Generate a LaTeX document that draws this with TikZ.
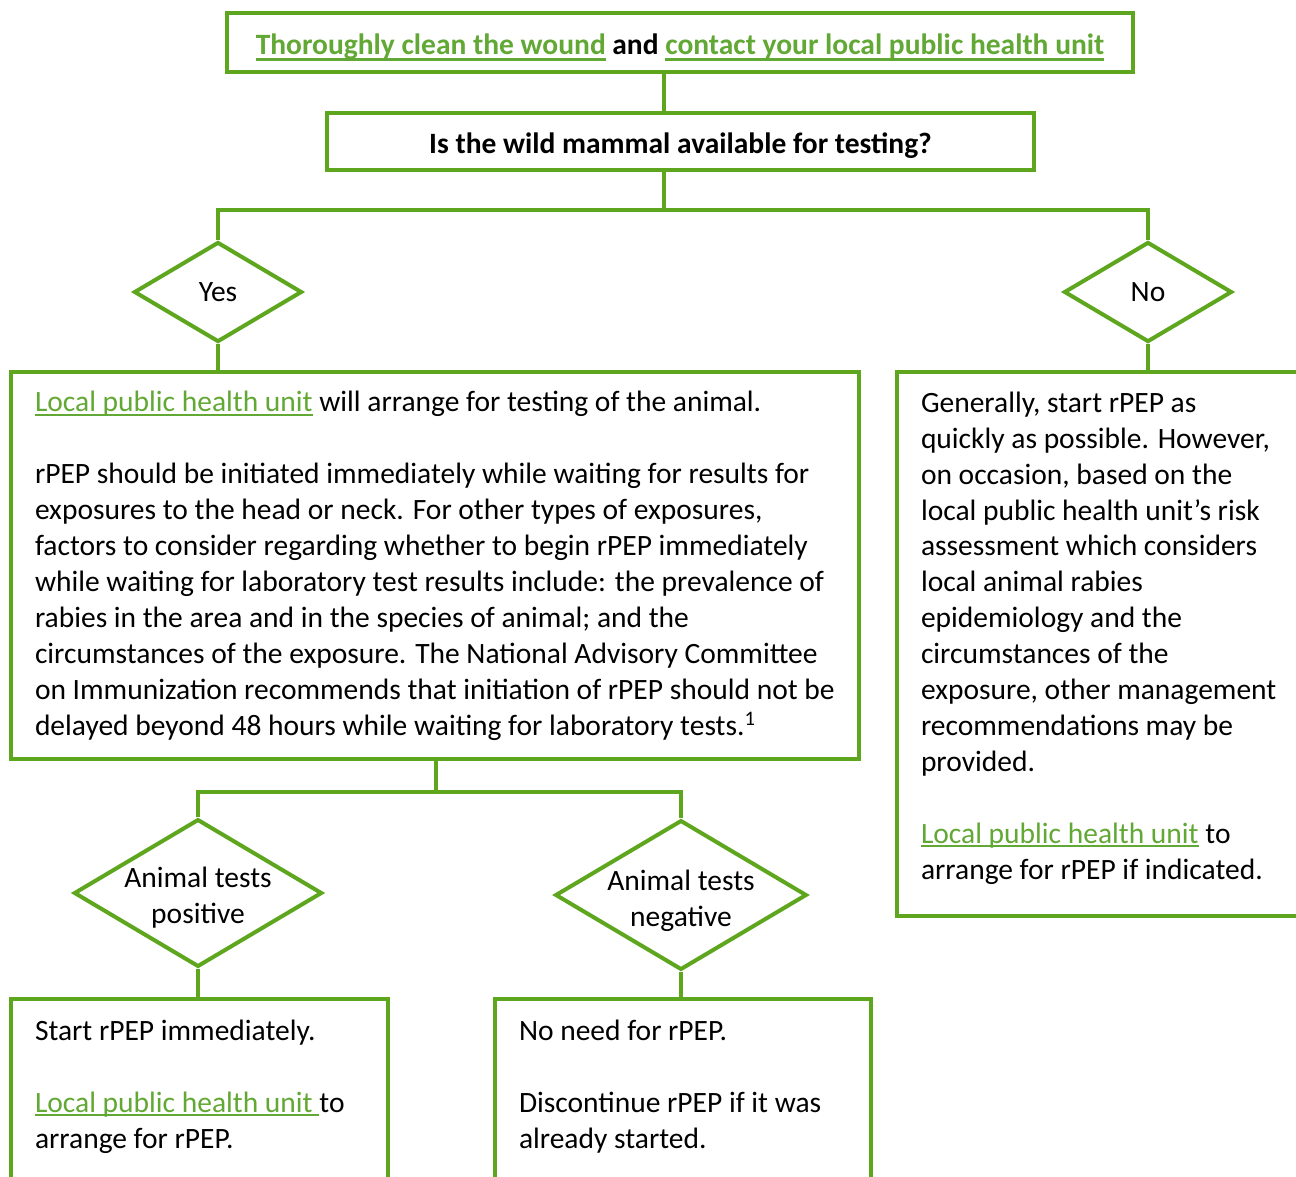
\documentclass[tikz,border=0pt]{standalone}
\usepackage{fontspec}
\setmainfont{Carlito}
\usetikzlibrary{shapes.geometric}
\definecolor{boxgreen}{RGB}{94,166,30}
\definecolor{linkgreen}{RGB}{98,168,52}
\newlength{\lnkwd}
\newcommand{\lnkline}[3]{\settowidth{\lnkwd}{#3}\textcolor{linkgreen}{\rlap{\rule[#1]{\lnkwd}{#2}}#3}}
\newcommand{\lnk}[1]{\lnkline{-4pt}{2pt}{#1}}
\newcommand{\lnkbold}[1]{\lnkline{-6pt}{3pt}{#1}}
\newcommand{\bodyfont}{\fontsize{29.5}{35.9}\selectfont}

\begin{document}
\begin{tikzpicture}
  [x=1pt,y=-1pt,line width=4pt,
   box/.style={rectangle,draw=boxgreen,fill=white,inner sep=0pt},
   headbox/.style={box,font=\bodyfont\bfseries,text height=24pt,text depth=0pt},
   choice/.style={diamond,draw=boxgreen,fill=white,inner sep=0pt,align=center,font=\bodyfont,text depth=0pt},
   body/.style={inner sep=0pt,align=left,anchor=base west,font=\bodyfont}]
  \useasboundingbox (0,0) rectangle (1296,1176);
  \clip (0,0) rectangle (1296,1176);

  \node[headbox,minimum width=906,minimum height=59] (wound) at (680,42.5)
    {\lnkbold{Thoroughly clean the wound} and \lnkbold{contact your local public health unit}};
  \node[headbox,minimum width=707,minimum height=57] (question) at (680.5,141.5)
    {Is the wild mammal available for testing?};
  \coordinate (split1) at (664,210);

  \node[choice,aspect=1.68,text height=18pt,minimum width=168,minimum height=100] (yes) at (218,292) {Yes};
  \node[choice,aspect=1.68,text height=18pt,minimum width=168,minimum height=100] (no) at (1148,292) {No};

  \node[box,minimum width=848,minimum height=387] (testing) at (435,565.5) {};
  \node[box,minimum width=403,minimum height=544] (general) at (1098.5,644) {};
  \coordinate (split2) at (436,792);

  \node[choice,aspect=1.68,text height=60pt,minimum width=248,minimum height=146] (pos) at (198,893) {Animal tests\\positive};
  \node[choice,aspect=1.68,text height=62pt,minimum width=248,minimum height=146] (neg) at (681,895) {Animal tests\\negative};

  \node[box,minimum width=377,minimum height=201] (posbox) at (199.5,1099.5) {};
  \node[box,minimum width=376,minimum height=201] (negbox) at (683,1099.5) {};

  % texts, placed at the baseline of their last line
  \node[body] (testingtxt) at (33,735) {\lnk{Local public health unit} will arrange for testing of the animal.\\[35.9pt]
    rPEP should be initiated immediately while waiting for results for\\
    exposures to the head or neck. For other types of exposures,\\
    factors to consider regarding whether to begin rPEP immediately\\
    while waiting for laboratory test results include: the prevalence of\\
    rabies in the area and in the species of animal; and the\\
    circumstances of the exposure. The National Advisory Committee\\
    on Immunization recommends that initiation of rPEP should not be\\
    delayed beyond 48 hours while waiting for laboratory tests.\textsuperscript{1}};
  \node[body] (generaltxt) at (919,879) {Generally, start rPEP as\\
    quickly as possible. However,\\
    on occasion, based on the\\
    local public health unit’s risk\\
    assessment which considers\\
    local animal rabies\\
    epidemiology and the\\
    circumstances of the\\
    exposure, other management\\
    recommendations may be\\
    provided.\\[35.9pt]
    \lnk{Local public health unit} to\\
    arrange for rPEP if indicated.};
  \node[body] (postxt) at (33,1148) {Start rPEP immediately.\\[35.9pt]
    \lnk{Local public health unit }to\\
    arrange for rPEP.};
  \node[body] (negtxt) at (517,1148) {No need for rPEP.\\[35.9pt]
    Discontinue rPEP if it was\\
    already started.};

  % connectors
  \draw[boxgreen] (wound.south -| split1) -- (question.north -| split1);
  \draw[boxgreen] (question.south -| split1) -- (split1);
  \draw[boxgreen] (yes.north) |- (split1) -| (no.north);
  \draw[boxgreen] (yes.south) -- (yes.south |- testing.north);
  \draw[boxgreen] (no.south) -- (no.south |- general.north);
  \draw[boxgreen] (testing.south -| split2) -- (split2);
  \draw[boxgreen] (pos.north) |- (split2) -| (neg.north);
  \foreach \from/\to in {pos/posbox, neg/negbox}
    \draw[boxgreen] (\from.south) -- (\from.south |- \to.north);
\end{tikzpicture}
\end{document}
